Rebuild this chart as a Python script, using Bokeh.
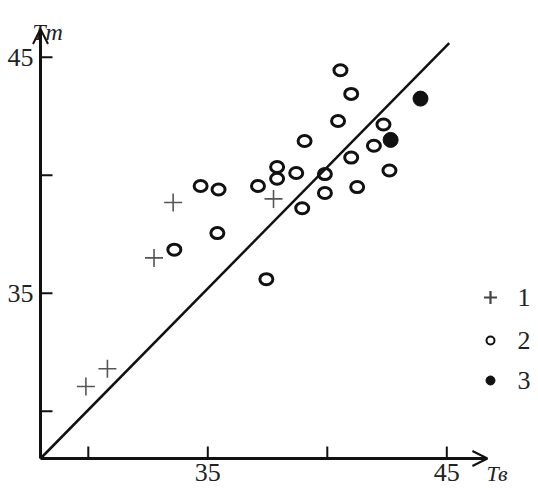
from bokeh.plotting import figure
from bokeh.models import Range1d, Arrow, OpenHead
from bokeh.core.properties import value
from bokeh.embed import file_html
from bokeh.resources import INLINE
import math

# ---- data ----
s1_x = [29.9, 30.8, 32.75, 33.55, 37.75]
s1_y = [31.05, 31.8, 36.5, 38.85, 39.0]

s2_x = [34.7, 35.45, 35.4, 33.6, 37.1, 37.9, 37.9, 38.7, 38.95, 37.45,
        40.55, 41.0, 40.45, 39.05, 42.35, 41.95, 41.0, 39.9, 39.9, 41.25, 42.6]
s2_y = [39.55, 39.4, 37.55, 36.85, 39.55, 40.35, 39.85, 40.1, 38.6, 35.6,
        44.45, 43.45, 42.3, 41.45, 42.15, 41.25, 40.75, 40.05, 39.25, 39.5, 40.2]

s3_x = [43.9, 42.65]
s3_y = [43.25, 41.5]

line_x = [28.0, 45.1]
line_y = [28.0, 45.6]

axis_min = 28.0
axis_end_x = 46.7
axis_end_y = 46.2

xticks = [30, 35, 40, 45]
xtick_labels = ["", "35", "", "45"]
yticks = [30, 35, 40, 45]
ytick_labels = ["", "35", "", "45"]

x_name = "Тв"
y_name = "Тт"
legend_labels = ["1", "2", "3"]

# ---- layout ----
W, H = 538, 492
FIG_X, FIG_Y = 0, 0          # picture position of the figure's top-left corner
PX, PY = 23.9, 23.6          # pixels per unit
OX, OY = 40, 458             # picture position of the origin
def dx(p): return p / PX
def dy(p): return p / PY

p = figure(width=W, height=H, output_backend="svg", toolbar_location=None,
           x_range=Range1d(axis_min - dx(OX - FIG_X), axis_min + dx(FIG_X + W - OX)),
           y_range=Range1d(axis_min - dy(FIG_Y + H - OY), axis_min + dy(OY - FIG_Y)),
           min_border=0)
p.axis.visible = False
p.grid.visible = False
p.outline_line_color = None
p.background_fill_color = "white"
p.border_fill_color = "white"

SERIF = value("Liberation Serif")
INK = "#111111"

# identity line
p.line(line_x, line_y, line_color=INK, line_width=2.5)

# axes with arrows
p.add_layout(Arrow(end=OpenHead(size=15, line_width=2, line_color=INK),
                   x_start=axis_min, y_start=axis_min, x_end=axis_end_x, y_end=axis_min,
                   line_width=3, line_color=INK))
p.add_layout(Arrow(end=OpenHead(size=15, line_width=2, line_color=INK),
                   x_start=axis_min, y_start=axis_min, x_end=axis_min, y_end=axis_end_y,
                   line_width=3, line_color=INK))

# ticks (inward)
p.ray(x=xticks, y=[axis_min] * len(xticks), length=12, length_units="screen",
      angle=math.pi / 2, line_color=INK, line_width=2)
p.ray(x=[axis_min] * len(yticks), y=yticks, length=12, length_units="screen",
      angle=0, line_color=INK, line_width=2)

# tick labels
p.text(x=xticks, y=[axis_min - dy(14)] * len(xticks), text=xtick_labels,
       text_font=SERIF, text_font_size="26px", text_color="#222222",
       text_align="center", text_baseline="middle")
p.text(x=[axis_min - dx(7)] * len(yticks), y=yticks, text=ytick_labels,
       text_font=SERIF, text_font_size="26px", text_color="#222222",
       text_align="right", text_baseline="middle")

# axis names
p.text(x=[axis_min + dx(7)], y=[axis_min + dy(OY - 31)], text=[y_name],
       text_font=SERIF, text_font_size="24px", text_font_style="italic",
       text_color="#222222", text_align="center", text_baseline="alphabetic")
p.text(x=[axis_min + dx(446)], y=[axis_min - dy(15)], text=[x_name],
       text_font=SERIF, text_font_size="22px", text_font_style="italic",
       text_color="#222222", text_align="left", text_baseline="middle")

# series
p.scatter(s1_x, s1_y, marker="cross", size=18, line_color="#555555", line_width=1.6)
p.ellipse(s2_x, s2_y, width=13, height=11, width_units="screen", height_units="screen",
          fill_color=None, line_color=INK, line_width=3)
p.scatter(s3_x, s3_y, marker="circle", size=15, fill_color=INK, line_color=INK)

# legend (drawn manually)
lx = axis_min + dx(490 - OX)
tx = axis_min + dx(517 - OX)
ly = [axis_min + dy(OY - 297), axis_min + dy(OY - 340), axis_min + dy(OY - 380)]
p.scatter([lx], [ly[0]], marker="cross", size=13, line_color="#444444", line_width=2.2)
p.scatter([lx], [ly[1]], marker="circle", size=8, fill_color=None, line_color=INK, line_width=2)
p.scatter([lx], [ly[2]], marker="circle", size=9, fill_color=INK, line_color=INK)
p.text(x=[tx] * 3, y=ly, text=legend_labels, text_font=SERIF, text_font_size="26px",
       text_color="#222222", text_align="left", text_baseline="middle")

open("out.html", "w").write(file_html(p, INLINE))
